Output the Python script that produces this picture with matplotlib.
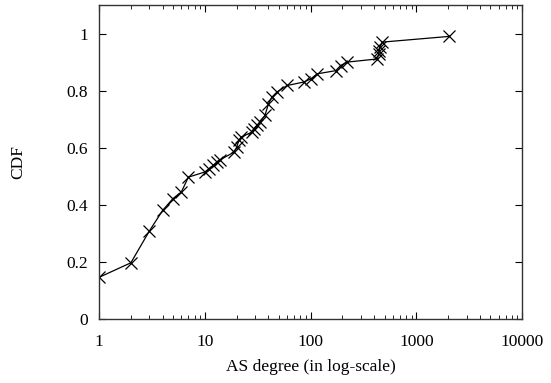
import numpy as np
import matplotlib.pyplot as plt

plt.rcParams['font.family'] = ['Liberation Serif', 'DejaVu Serif']

# AS degree values and their CDF
degree = [1, 2, 3, 4, 5, 6, 7, 10, 11, 12, 13, 14, 19, 20, 21, 22, 28, 29, 31, 33,
          37, 40, 43, 48, 60, 86, 100, 116, 173, 192, 222, 428, 440, 445, 450, 478, 2048]
cdf = [0.146, 0.197, 0.309, 0.381, 0.422, 0.445, 0.497, 0.515, 0.527, 0.538, 0.55,
       0.558, 0.585, 0.602, 0.626, 0.637, 0.655, 0.667, 0.678, 0.69, 0.713, 0.754,
       0.777, 0.795, 0.818, 0.83, 0.841, 0.859, 0.87, 0.888, 0.9, 0.911, 0.929, 0.94,
       0.952, 0.97, 0.99]

xticks = [1, 10, 100, 1000, 10000]
yticks = [0, 0.2, 0.4, 0.6, 0.8, 1]

fig = plt.figure(figsize=(5.51, 3.83), dpi=100)
ax = fig.add_axes([0.1797, 0.167, 0.768, 0.820])

ax.plot(degree, cdf, color='black', lw=0.9, marker='x', markersize=8, markeredgewidth=0.9)

ax.set_xscale('log')
ax.set_xlim(1, 10000)
ax.set_ylim(0, 1.1)
ax.set_xticks(xticks)
ax.set_xticklabels([str(t) for t in xticks])
ax.set_yticks(yticks)
ax.set_yticklabels(['0', '0.2', '0.4', '0.6', '0.8', '1'])

ax.tick_params(which='both', direction='in', top=True, right=True, labelsize=12.5)
ax.tick_params(axis='x', pad=11)
ax.tick_params(axis='y', pad=8)
ax.tick_params(which='major', length=5)
ax.tick_params(which='minor', length=3)
for s in ax.spines.values():
    s.set_linewidth(1.0)
    s.set_color('#333333')

ax.set_xlabel('AS degree (in log-scale)', fontsize=12.5, labelpad=6)
ax.set_ylabel('CDF', fontsize=12.5, labelpad=29)

fig.savefig('out.png', dpi=100)
